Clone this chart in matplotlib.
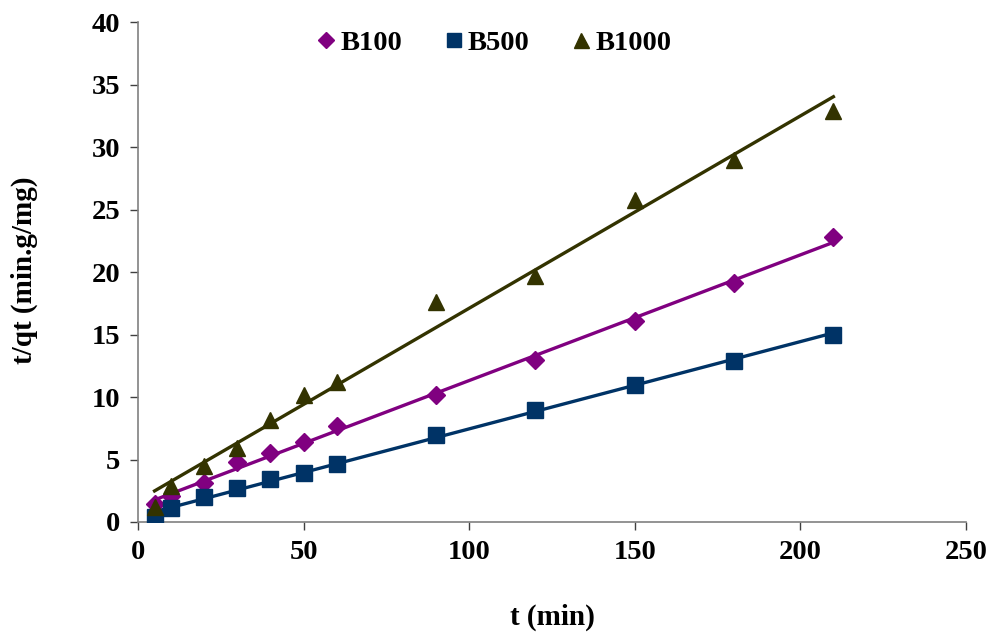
import numpy as np
import matplotlib
matplotlib.use("Agg")
import matplotlib.pyplot as plt

# contact time (min)
t = [5, 10, 20, 30, 40, 50, 60, 90, 120, 150, 180, 210]

# t/qt values for each adsorbent dose
b100 = [1.4, 2.1, 3.1, 4.8, 5.5, 6.4, 7.7, 10.2, 13.0, 16.1, 19.1, 22.8]
b500 = [0.4, 1.1, 2.0, 2.7, 3.4, 3.9, 4.6, 7.0, 9.0, 11.0, 12.9, 15.0]
b1000 = [1.2, 2.9, 4.5, 5.9, 8.2, 10.2, 11.2, 17.6, 19.7, 25.8, 29.0, 32.9]

series_names = ["B100", "B500", "B1000"]
colors = ["#800080", "#003366", "#333300"]
markers = ["D", "s", "^"]
marker_sizes = [9, 11, 12]

plt.rcParams["font.family"] = ["Liberation Serif", "DejaVu Serif"]
plt.rcParams["font.weight"] = "bold"

fig = plt.figure(figsize=(9.95, 6.35), dpi=100)
ax = fig.add_axes([0.1387, 0.178, 0.832, 0.787])

tt = np.array(t, dtype=float)
handles = []
for name, ys, c, m, ms in zip(series_names, [b100, b500, b1000], colors, markers, marker_sizes):
    ys = np.array(ys, dtype=float)
    slope, icpt = np.polyfit(tt, ys, 1)
    xs = np.array([tt.min(), tt.max()])
    ax.plot(xs, slope * xs + icpt, color=c, lw=2.4, zorder=2)
    h, = ax.plot(tt, ys, linestyle="none", marker=m, ms=ms, color=c,
                 markeredgecolor=c, zorder=3, label=name)
    handles.append(h)

ax.set_xlim(0, 250)
ax.set_ylim(0, 40)
ax.set_xticks(np.arange(0, 251, 50))
ax.set_yticks(np.arange(0, 41, 5))

for side in ["top", "right"]:
    ax.spines[side].set_visible(False)
for side in ["left", "bottom"]:
    ax.spines[side].set_color("#808080")
    ax.spines[side].set_linewidth(1.2)

ax.tick_params(axis="both", direction="out", length=6, width=1, color="#404040",
               labelsize=20.5, pad=7)
for lab in ax.get_xticklabels() + ax.get_yticklabels():
    lab.set_fontweight("bold")

fig.text(552 / 995, 1 - 617 / 635, "t (min)", ha="center", va="center",
         fontsize=21, fontweight="bold")
fig.text(24 / 995, 1 - 270 / 635, "t/qt (min.g/mg)", ha="center", va="center",
         rotation=90, fontsize=21, fontweight="bold")

leg = fig.legend(handles=handles, loc="center", bbox_to_anchor=(0.497, 1 - 43 / 635),
                 ncol=3, frameon=False, fontsize=20.5, handlelength=0.6,
                 handletextpad=0.2, columnspacing=1.5, markerscale=0.9)
for txt in leg.get_texts():
    txt.set_fontweight("bold")

fig.savefig("out.png", dpi=100)
